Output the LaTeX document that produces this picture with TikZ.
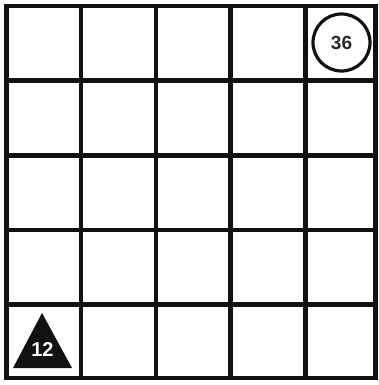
\documentclass[tikz,border=0pt]{standalone}
\usepackage{fontspec}
\setsansfont{Liberation Sans}
\usepackage{tikz}
\usetikzlibrary{positioning}
\definecolor{ink}{HTML}{111111}
\definecolor{tag}{HTML}{2A2A2A}

\begin{document}
\begin{tikzpicture}[x=1pt,y=-1pt]
  \useasboundingbox (0,0) rectangle (379,385);
  % grid lines, 5x5 board
  \foreach \x in {6.5,81,156,230.5,305.5,375.5}
    \draw[ink,line width=4.5pt,line cap=rect] (\x,6) -- (\x,378);
  \foreach \y in {6,80.5,155.5,230,304.5,378}
    \draw[ink,line width=4.5pt,line cap=rect] (6.5,\y) -- (375.5,\y);
  % goal marker in the top right cell
  \node[circle,draw=ink,line width=3.2pt,fill=white,minimum size=57pt,inner sep=0pt,
        text=tag,font=\sffamily\bfseries\fontsize{19}{19}\selectfont] (goal) at (341.5,42.5) {36};
  % start marker in the bottom left cell
  \fill[ink] (42,313) -- (72,368) -- (13,368) -- cycle;
  \node[text=white,font=\sffamily\bfseries\fontsize{20}{20}\selectfont] (start) at (42.5,350) {12};
\end{tikzpicture}
\end{document}
